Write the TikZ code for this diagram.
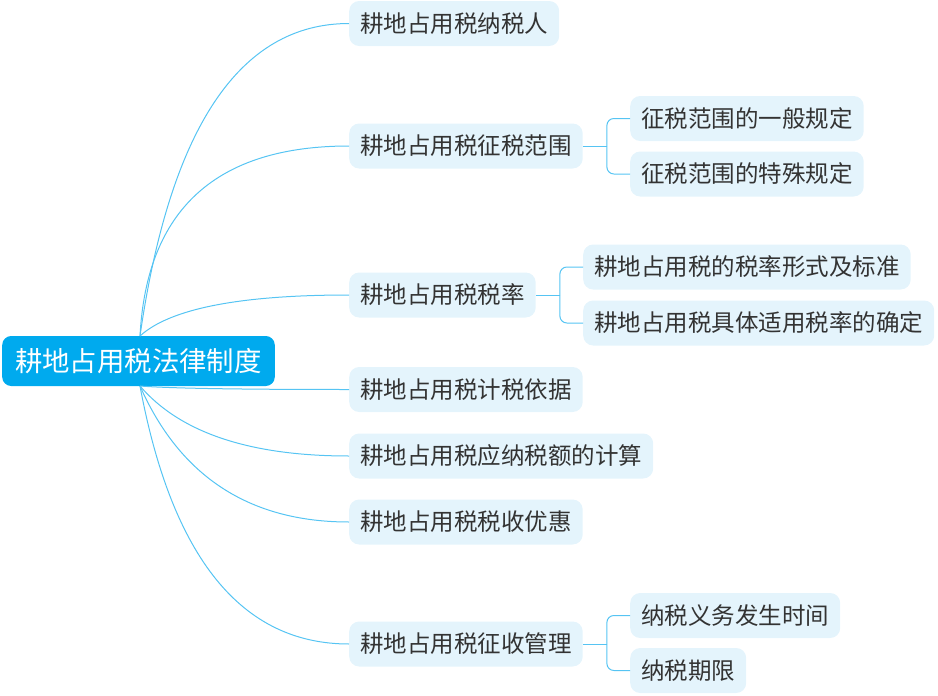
\documentclass[tikz,border=0pt]{standalone}
\usepackage{fontspec}
\setmainfont{Noto Sans CJK SC}
\usetikzlibrary{calc}
\definecolor{rootc}{RGB}{0,170,238}
\definecolor{boxc}{RGB}{228,244,252}
\definecolor{linec}{RGB}{86,196,243}
\definecolor{txtc}{RGB}{51,51,51}
\tikzset{
 rootbox/.style={fill=rootc, rounded corners=9pt, text=white, font=\fontsize{27.4}{30}\selectfont, inner xsep=13pt, inner ysep=0pt, minimum height=50pt, anchor=west},
 topic/.style={fill=boxc, rounded corners=10pt, text=txtc, font=\fontsize{23.5}{26}\selectfont, inner xsep=11pt, inner ysep=0pt, minimum height=45pt, anchor=west},
 conn/.style={draw=linec, line width=1pt},
}
\newcommand\rootlink[3]{%
 \path (#3,0 |- #2.west) coordinate (ctl);
 \draw[conn] (#1) .. controls ($(#1)!0.6667!(ctl)$) and ($(#2.west)!0.6667!(ctl)$) .. (#2.west);}
\begin{document}
\begin{tikzpicture}[x=1pt,y=-1pt]
\useasboundingbox (0,0) rectangle (938,696);
\node[rootbox] (root) at (2,361) {耕地占用税法律制度};
\coordinate (rt) at (140,336);
\coordinate (rb) at (140,386);

\node[topic] (b1) at (349,23.5) {耕地占用税纳税人};
\node[topic] (b2) at (349,146) {耕地占用税征税范围};
\node[topic] (b2a) at (630,118.5) {征税范围的一般规定};
\node[topic] (b2b) at (630,174) {征税范围的特殊规定};
\node[topic] (b3) at (349,295) {耕地占用税税率};
\node[topic] (b3a) at (583,267) {耕地占用税的税率形式及标准};
\node[topic] (b3b) at (583,323) {耕地占用税具体适用税率的确定};
\node[topic] (b4) at (349,389.5) {耕地占用税计税依据};
\node[topic] (b5) at (349,456) {耕地占用税应纳税额的计算};
\node[topic] (b6) at (349,522) {耕地占用税税收优惠};
\node[topic] (b7) at (349,644) {耕地占用税征收管理};
\node[topic] (b7a) at (630,615.5) {纳税义务发生时间};
\node[topic] (b7b) at (630,670.5) {纳税期限};

\rootlink{rt}{b1}{185}
\rootlink{rt}{b2}{150}
\rootlink{rt}{b3}{185}
\rootlink{rb}{b4}{185}
\rootlink{rb}{b5}{200}
\rootlink{rb}{b6}{200}
\rootlink{rb}{b7}{188}

\draw[conn] (b2.east) -- ++(24,0) coordinate (j2);
\draw[conn, rounded corners=7pt] (j2) |- (b2a.west);
\draw[conn, rounded corners=7pt] (j2) |- (b2b.west);
\draw[conn] (b3.east) -- ++(24,0) coordinate (j3);
\draw[conn, rounded corners=7pt] (j3) |- (b3a.west);
\draw[conn, rounded corners=7pt] (j3) |- (b3b.west);
\draw[conn] (b7.east) -- ++(24,0) coordinate (j7);
\draw[conn, rounded corners=7pt] (j7) |- (b7a.west);
\draw[conn, rounded corners=7pt] (j7) |- (b7b.west);
\end{tikzpicture}
\end{document}
